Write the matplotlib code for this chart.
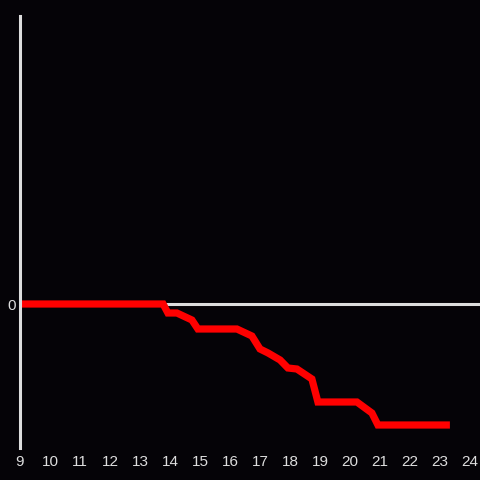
import matplotlib
matplotlib.use('Agg')
import matplotlib.pyplot as plt

# Hour of day vs. cumulative change (arbitrary units)
hours = [9.0, 13.77, 13.93, 14.23, 14.73, 14.93, 16.23, 16.73, 17.0, 17.27,
         17.67, 17.93, 18.23, 18.73, 18.93, 20.23, 20.73, 20.93, 23.33]
values = [0, 0, -9, -9, -16, -25, -25, -32, -45, -49,
          -56, -64, -65, -75, -98, -98, -109, -121, -121]
xticks = list(range(9, 25))

bg = '#050307'
fg = '#dddddd'

plt.rcParams['font.family'] = ['Liberation Sans', 'DejaVu Sans']

fig = plt.figure(figsize=(4.8, 4.8), dpi=100, facecolor=bg)
ax = fig.add_axes([20 / 480, 32 / 480, 460 / 480, 432 / 480], facecolor=bg)

# zero baseline
ax.axhline(0, color=fg, lw=2.2, zorder=1)
ax.plot(hours, values, color='#ff0000', lw=5.2, solid_joinstyle='miter',
        solid_capstyle='butt', zorder=2)

ax.set_xlim(9, 9 + 460 / 30)
ax.set_ylim(-144, 288)

ax.set_xticks(xticks)
ax.set_yticks([0])
ax.tick_params(length=0, colors=fg, labelsize=11)
ax.tick_params(axis='x', pad=5)
ax.tick_params(axis='y', pad=3)

for side in ['top', 'right', 'bottom']:
    ax.spines[side].set_visible(False)
ax.spines['left'].set_color(fg)
ax.spines['left'].set_linewidth(2.2)

fig.savefig('out.png', dpi=100, facecolor=bg)
